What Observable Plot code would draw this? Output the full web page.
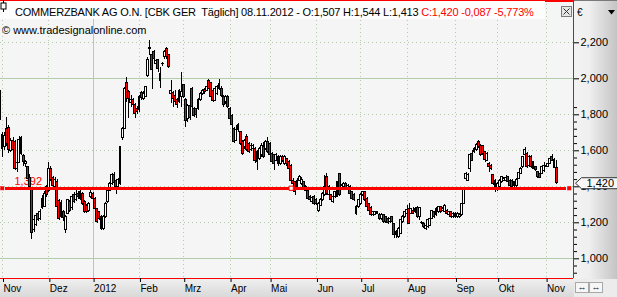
<!DOCTYPE html>
<html><head><meta charset="utf-8">
<script src="https://cdn.jsdelivr.net/npm/d3@7"></script>
<script src="https://cdn.jsdelivr.net/npm/@observablehq/plot@0.6"></script>
<style>
html,body{margin:0;padding:0;background:#f5f5f5;}
#wrap{position:relative;width:617px;height:297px;overflow:hidden;font-family:"Liberation Sans",Arial,sans-serif;
background:
 linear-gradient(#f5f5f5,#f5f5f5) left top/574px 279px no-repeat,
 linear-gradient(to right,#f3f3f3 0%,#efefef 35%,#c4c4c4 100%) right top/43px 279px no-repeat,
 linear-gradient(to bottom,#efefef,#d9d9d9) left bottom/574px 18px no-repeat,
 #ececec;}
#wrap svg{position:absolute;left:0;top:0;}
.ov{position:absolute;white-space:pre;font-size:11px;line-height:13px;color:#000;}
#hbox{position:absolute;left:0;top:1px;width:545px;height:18px;background:#fdfdfd;}
#ic{position:absolute;left:5px;top:6px;width:7px;height:12px;}
#xbox{position:absolute;left:561px;top:6px;width:9px;height:9px;border:1px solid #7c7c7c;background:#e6e6e6;}
#axtop{position:absolute;left:574px;top:0;width:43px;height:1px;background:#7a7a7a;}
.btn{position:absolute;top:282px;width:12px;height:9px;border:1px solid #a8a8a8;background:#f6f6f6;font-size:9px;line-height:9px;text-align:center;color:#222;}
</style></head>
<body>
<div id="wrap">
  <div id="chart"></div>
</div>
<script>
// ---- data (EUR), one value per trading day, 31.10.2011 .. 08.11.2012 ----
const open = [1.898,1.689,1.620,1.722,1.728,1.600,1.657,1.648,1.500,1.535,1.670,1.570,1.528,1.510,1.450,1.380,1.160,1.190,1.250,1.222,1.280,1.290,1.398,1.375,1.500,1.448,1.398,1.428,1.322,1.312,1.260,1.160,1.250,1.314,1.280,1.352,1.324,1.360,1.333,1.362,1.314,1.296,1.268,1.342,1.361,1.333,1.277,1.259,1.231,1.166,1.231,1.314,1.379,1.416,1.465,1.435,1.400,1.415,1.673,1.723,1.975,1.925,1.864,1.880,1.852,1.835,1.824,1.920,1.890,1.900,2.018,2.172,2.135,2.148,2.080,2.102,1.990,2.080,2.120,2.166,2.130,1.916,1.920,1.905,1.880,1.870,1.900,1.963,1.880,1.775,1.850,1.944,1.833,1.830,1.833,1.880,1.916,1.940,1.935,1.990,1.975,1.935,1.879,1.916,1.944,1.944,1.898,1.870,1.898,1.833,1.796,1.722,1.657,1.741,1.704,1.648,1.620,1.679,1.639,1.602,1.610,1.611,1.592,1.555,1.574,1.620,1.611,1.648,1.639,1.583,1.574,1.546,1.565,1.528,1.565,1.528,1.555,1.537,1.518,1.435,1.426,1.398,1.435,1.416,1.426,1.398,1.379,1.342,1.315,1.342,1.328,1.268,1.296,1.324,1.352,1.453,1.352,1.352,1.315,1.342,1.342,1.472,1.389,1.398,1.416,1.383,1.398,1.370,1.357,1.287,1.287,1.305,1.352,1.370,1.333,1.305,1.283,1.241,1.246,1.259,1.246,1.222,1.241,1.231,1.222,1.203,1.231,1.191,1.130,1.120,1.139,1.203,1.231,1.250,1.278,1.250,1.268,1.259,1.283,1.235,1.198,1.194,1.166,1.176,1.185,1.222,1.259,1.241,1.259,1.287,1.268,1.259,1.268,1.246,1.259,1.231,1.250,1.231,1.235,1.241,1.305,1.444,1.435,1.500,1.583,1.592,1.602,1.648,1.629,1.624,1.592,1.546,1.528,1.518,1.463,1.435,1.389,1.398,1.426,1.435,1.431,1.453,1.435,1.435,1.402,1.402,1.444,1.472,1.509,1.574,1.583,1.518,1.568,1.537,1.509,1.481,1.472,1.472,1.487,1.509,1.512,1.528,1.565,1.550,1.507];
const high = [1.935,1.700,1.700,1.783,1.740,1.668,1.676,1.655,1.545,1.680,1.680,1.580,1.545,1.515,1.470,1.392,1.230,1.252,1.262,1.275,1.350,1.372,1.410,1.537,1.512,1.455,1.452,1.440,1.330,1.322,1.270,1.240,1.332,1.322,1.348,1.366,1.380,1.372,1.377,1.370,1.322,1.302,1.312,1.380,1.370,1.340,1.282,1.265,1.240,1.242,1.312,1.386,1.426,1.476,1.478,1.442,1.448,1.625,1.730,1.952,2.007,1.935,1.910,1.890,1.862,1.845,1.910,1.930,1.930,1.960,2.120,2.213,2.150,2.160,2.110,2.110,2.065,2.090,2.160,2.172,2.135,1.990,1.930,1.935,1.890,1.940,2.037,1.970,1.888,1.858,1.860,1.950,1.842,1.835,1.890,1.925,1.942,1.948,1.960,1.995,1.980,1.940,1.950,1.965,1.994,1.955,1.905,1.910,1.905,1.840,1.800,1.730,1.741,1.750,1.710,1.655,1.665,1.690,1.645,1.640,1.635,1.618,1.600,1.618,1.640,1.648,1.655,1.676,1.645,1.590,1.580,1.583,1.572,1.572,1.572,1.574,1.560,1.545,1.525,1.445,1.432,1.445,1.463,1.450,1.432,1.405,1.385,1.350,1.345,1.350,1.335,1.312,1.335,1.368,1.463,1.472,1.405,1.360,1.350,1.376,1.432,1.476,1.415,1.425,1.425,1.412,1.405,1.376,1.362,1.295,1.330,1.362,1.376,1.376,1.340,1.310,1.290,1.265,1.265,1.265,1.252,1.252,1.246,1.236,1.228,1.228,1.236,1.195,1.155,1.172,1.220,1.238,1.265,1.296,1.305,1.282,1.287,1.283,1.290,1.287,1.205,1.200,1.190,1.218,1.228,1.270,1.265,1.284,1.292,1.293,1.285,1.302,1.275,1.265,1.265,1.256,1.256,1.255,1.252,1.310,1.395,1.481,1.476,1.580,1.602,1.618,1.642,1.655,1.635,1.630,1.598,1.590,1.535,1.525,1.470,1.440,1.422,1.440,1.458,1.450,1.463,1.460,1.440,1.442,1.432,1.445,1.482,1.506,1.570,1.620,1.588,1.572,1.575,1.542,1.515,1.486,1.476,1.515,1.537,1.531,1.534,1.560,1.578,1.558,1.544];
const low = [1.770,1.565,1.600,1.625,1.585,1.590,1.595,1.490,1.480,1.530,1.575,1.512,1.508,1.440,1.390,1.110,1.145,1.180,1.205,1.215,1.275,1.283,1.340,1.370,1.430,1.395,1.390,1.280,1.212,1.222,1.210,1.140,1.245,1.258,1.270,1.306,1.318,1.330,1.325,1.298,1.250,1.250,1.260,1.335,1.325,1.268,1.195,1.212,1.158,1.160,1.225,1.308,1.372,1.408,1.400,1.360,1.385,1.405,1.660,1.718,1.870,1.780,1.842,1.838,1.780,1.800,1.815,1.880,1.880,1.895,2.010,2.130,1.938,2.100,2.070,2.035,1.944,2.070,2.110,2.110,2.055,1.864,1.842,1.860,1.835,1.862,1.842,1.890,1.728,1.760,1.770,1.835,1.785,1.780,1.825,1.872,1.905,1.915,1.928,1.940,1.890,1.870,1.872,1.910,1.935,1.898,1.842,1.860,1.835,1.770,1.694,1.640,1.650,1.700,1.630,1.575,1.610,1.595,1.585,1.595,1.600,1.528,1.491,1.545,1.565,1.555,1.600,1.585,1.565,1.528,1.491,1.540,1.515,1.520,1.535,1.520,1.515,1.490,1.428,1.405,1.351,1.390,1.428,1.410,1.380,1.372,1.325,1.315,1.308,1.298,1.295,1.259,1.290,1.318,1.345,1.352,1.345,1.315,1.310,1.335,1.338,1.345,1.380,1.390,1.383,1.376,1.355,1.324,1.320,1.241,1.280,1.298,1.345,1.318,1.280,1.262,1.235,1.235,1.240,1.244,1.215,1.215,1.198,1.196,1.192,1.198,1.196,1.111,1.111,1.115,1.135,1.198,1.225,1.245,1.188,1.245,1.245,1.252,1.225,1.213,1.192,1.170,1.157,1.170,1.180,1.218,1.225,1.235,1.252,1.252,1.262,1.255,1.245,1.240,1.222,1.226,1.226,1.226,1.222,1.235,1.300,1.438,1.430,1.481,1.540,1.585,1.596,1.612,1.568,1.576,1.537,1.540,1.481,1.492,1.410,1.370,1.376,1.392,1.420,1.430,1.426,1.420,1.400,1.392,1.396,1.396,1.440,1.466,1.504,1.568,1.502,1.512,1.503,1.494,1.485,1.448,1.444,1.468,1.482,1.505,1.506,1.522,1.540,1.500,1.413];
const close = [1.778,1.611,1.680,1.638,1.602,1.657,1.602,1.500,1.530,1.660,1.583,1.537,1.538,1.444,1.400,1.145,1.215,1.240,1.215,1.260,1.332,1.360,1.352,1.500,1.440,1.405,1.440,1.290,1.222,1.232,1.225,1.230,1.324,1.268,1.342,1.314,1.352,1.342,1.370,1.305,1.259,1.259,1.305,1.365,1.333,1.277,1.203,1.222,1.166,1.231,1.305,1.379,1.416,1.463,1.420,1.398,1.438,1.620,1.723,1.946,1.890,1.889,1.883,1.852,1.807,1.815,1.901,1.892,1.918,1.953,2.102,2.168,2.050,2.111,2.100,2.055,2.028,2.082,2.148,2.120,2.065,1.935,1.889,1.870,1.852,1.935,1.925,1.898,1.768,1.850,1.780,1.842,1.796,1.800,1.883,1.915,1.935,1.926,1.953,1.944,1.898,1.879,1.944,1.953,1.972,1.907,1.852,1.898,1.842,1.778,1.741,1.648,1.713,1.713,1.639,1.583,1.657,1.602,1.592,1.629,1.625,1.546,1.537,1.611,1.629,1.565,1.648,1.592,1.574,1.537,1.528,1.574,1.524,1.565,1.546,1.565,1.524,1.500,1.435,1.416,1.370,1.435,1.453,1.439,1.389,1.379,1.333,1.324,1.338,1.305,1.302,1.305,1.328,1.361,1.398,1.361,1.398,1.324,1.342,1.370,1.426,1.352,1.407,1.416,1.389,1.407,1.361,1.333,1.328,1.250,1.324,1.357,1.370,1.324,1.287,1.268,1.241,1.259,1.259,1.250,1.222,1.246,1.203,1.203,1.198,1.222,1.203,1.130,1.148,1.166,1.213,1.231,1.259,1.272,1.194,1.278,1.250,1.278,1.231,1.281,1.200,1.176,1.185,1.213,1.222,1.265,1.231,1.278,1.287,1.259,1.278,1.296,1.250,1.259,1.231,1.250,1.231,1.250,1.246,1.305,1.389,1.472,1.468,1.574,1.546,1.611,1.635,1.620,1.574,1.583,1.550,1.583,1.509,1.500,1.416,1.389,1.416,1.435,1.453,1.444,1.450,1.426,1.407,1.398,1.426,1.439,1.476,1.500,1.565,1.602,1.509,1.565,1.509,1.500,1.491,1.453,1.450,1.509,1.513,1.518,1.528,1.555,1.546,1.507,1.420];

// calendar (categories)
const firstDay = "2011-10-31", lastDay = "2012-11-08";
const holidays = ["2011-12-26", "2012-04-06", "2012-04-09", "2012-05-01"];
const monthLabels = ["Nov", "Dez", "2012", "Feb", "Mrz", "Apr", "Mai", "Jun", "Jul", "Aug", "Sep", "Okt", "Nov"];
const yLabelTicks = [1.0, 1.2, 1.4, 1.6, 1.8, 2.0, 2.2];
const ySolidGrid = [1.0, 2.0];
const yDottedGrid = [1.2, 1.4, 1.6, 1.8, 2.2];
const supportLevel = 1.392;
const supportAnchorDate = "2012-05-16";
const titleText = "COMMERZBANK AG O.N. [CBK GER\u00a0 Täglich] 08.11.2012";
const sourceText = "© www.tradesignalonline.com";

const RED = "#ff0000", GRID = "#b3ccaa";
const fmt = v => v.toFixed(3).replace(".", ",");

const days = [];
for (let t = Date.parse(firstDay + "T00:00Z"); t <= Date.parse(lastDay + "T00:00Z"); t += 864e5) {
  const d = new Date(t), wd = d.getUTCDay(), s = d.toISOString().slice(0, 10);
  if (wd !== 0 && wd !== 6 && !holidays.includes(s)) days.push(s);
}
const candles = days.map((date, i) => ({i, date, open: open[i], high: high[i], low: low[i], close: close[i]}));
const monthStarts = days.map((d, i) => i).filter(i => i > 0 && days[i].slice(0, 7) !== days[i - 1].slice(0, 7));
const monthLabelOf = new Map(monthStarts.map((i, k) => [i, monthLabels[k]]));
const janIdx = monthStarts.filter(i => days[i].slice(5, 7) === "01");
const otherMonths = monthStarts.filter(i => !janIdx.includes(i));
const yMinor = d3.range(24).map(k => +(0.92 + k * 0.04).toFixed(2)).filter(v => !yLabelTicks.some(t => Math.abs(t - v) < 1e-6));
const last = candles[candles.length - 1], prev = candles[candles.length - 2];

const xDomain = [0.05, 272];
const yDomain = [0.8906, 2.435];

// pointed price tag shape (drawn as a dot symbol, anchored at the tip)
const priceTag = {draw(ctx) {
  ctx.moveTo(0, 0); ctx.lineTo(6, -5.5); ctx.lineTo(42, -5.5); ctx.lineTo(42, 5.5); ctx.lineTo(6, 5.5); ctx.closePath();
}};

const chart = Plot.plot({
  width: 617, height: 297,
  marginLeft: 0, marginRight: 44, marginTop: 0, marginBottom: 19,
  style: {background: "transparent", fontFamily: "'Liberation Sans', Arial, sans-serif", fontSize: "11px", overflow: "visible"},
  x: {type: "linear", domain: xDomain, label: null},
  y: {type: "linear", domain: yDomain, label: null},
  color: {type: "identity"},
  marks: [
    Plot.ruleY(ySolidGrid, {stroke: GRID, strokeWidth: 1, shapeRendering: "crispEdges"}),
    Plot.ruleY(yDottedGrid, {stroke: GRID, strokeWidth: 1, strokeDasharray: "1,3", shapeRendering: "crispEdges"}),
    Plot.ruleX(janIdx, {stroke: GRID, strokeWidth: 1, shapeRendering: "crispEdges"}),
    Plot.ruleX(otherMonths, {stroke: GRID, strokeWidth: 1, strokeDasharray: "1,3", shapeRendering: "crispEdges"}),
    Plot.text([supportLevel], {y: d => d, text: d => fmt(d), frameAnchor: "left", textAnchor: "start", dx: 14, dy: -7, fill: RED, fontSize: 11}),
    Plot.ruleX(candles, {x: "i", y1: "low", y2: "high", stroke: "#000", strokeWidth: 1, shapeRendering: "crispEdges"}),
    Plot.rect(candles, {x1: d => d.i - 0.45, x2: d => d.i + 0.45, y1: "open", y2: "close",
      fill: d => d.close < d.open ? RED : "#ffffff", stroke: "#000", strokeWidth: 1, shapeRendering: "crispEdges"}),
    Plot.ruleY([supportLevel], {stroke: RED, strokeWidth: 3, insetLeft: 5, insetRight: 7, shapeRendering: "crispEdges"}),
    Plot.dot([supportLevel], {y: d => d, frameAnchor: "left", dx: 1.7, symbol: "square", r: 2.2, fill: RED, stroke: null}),
    Plot.dot([supportLevel], {y: d => d, frameAnchor: "right", dx: -4.3, symbol: "square", r: 2.3, fill: RED, stroke: null}),
    Plot.dot([{i: days.indexOf(supportAnchorDate), v: supportLevel}], {x: "i", y: "v", symbol: "square", r: 2.4, fill: "#ffffff", stroke: RED, strokeWidth: 1}),
    Plot.ruleY([yDomain[0]], {stroke: RED, strokeWidth: 1.3, shapeRendering: "crispEdges"}),
    Plot.ruleY([yDomain[1]], {stroke: RED, strokeWidth: 2, shapeRendering: "crispEdges"}),
    Plot.ruleX([xDomain[1]], {stroke: RED, strokeWidth: 1, shapeRendering: "crispEdges"}),
    Plot.axisY(yLabelTicks, {anchor: "right", tickSize: 5, tickPadding: 2, tickFormat: fmt, fontSize: 11, label: null, stroke: "#000", fill: "#000"}),
    Plot.axisY(yMinor, {anchor: "right", tickSize: 3, fill: "none", label: null, stroke: "#000"}),
    Plot.axisX(monthStarts, {anchor: "bottom", tickSize: 4, tickPadding: 2, tickFormat: i => monthLabelOf.get(i), textAnchor: "start", dx: 1, fontSize: 10, label: null, stroke: "#000", fill: "#000"}),
    // current price tag on the right axis
    Plot.dot([last], {y: "close", frameAnchor: "right", dx: 2, symbol: priceTag, r: 4, fill: "#f8f8f8", stroke: "#333", strokeWidth: 1}),
    Plot.text([last], {y: "close", text: d => fmt(d.close), frameAnchor: "right", dx: 13, textAnchor: "start", fontSize: 11, fill: "#000"})
  ]
});
document.getElementById("wrap").appendChild(chart);

// header (overlay text)
const chg = last.close - prev.close;
const wrap = document.getElementById("wrap");
wrap.insertAdjacentHTML("beforeend", `
  <div id="hbox"></div>
  <svg id="ic" viewBox="0 0 7 12"><line x1="3.5" y1="0" x2="3.5" y2="12" stroke="#000"/><rect x="1" y="3" width="5" height="6" fill="#fff" stroke="#000"/></svg>
  <div class="ov" style="left:15px;top:6px;letter-spacing:-0.2px">${titleText} - O:${fmt(last.open)} H:${fmt(last.high)} L:${fmt(last.low)} <span style="color:${RED}">C:${fmt(last.close)} ${(chg < 0 ? "-" : "+") + fmt(Math.abs(chg))} ${(chg < 0 ? "-" : "+") + (Math.abs(chg) / prev.close * 100).toFixed(3).replace(".", ",")}%</span></div>
  <div class="ov" style="left:2px;top:24px">${sourceText}</div>
  <div id="xbox"><svg width="9" height="9"><line x1="1.5" y1="1.5" x2="7.5" y2="7.5" stroke="#333"/><line x1="7.5" y1="1.5" x2="1.5" y2="7.5" stroke="#333"/></svg></div>
  <div id="axtop"></div>
  <div class="ov" style="left:577px;top:6px;font-size:10px">€</div>
  <svg style="position:absolute;left:608px;top:10px" width="7" height="5"><path d="M0,0 L7,0 L3.5,4.5 Z" fill="#000"/></svg>
  <div class="btn" style="left:575px">↔</div>
  <div class="btn" style="left:589px">↔</div>
`);
</script>
</body></html>
